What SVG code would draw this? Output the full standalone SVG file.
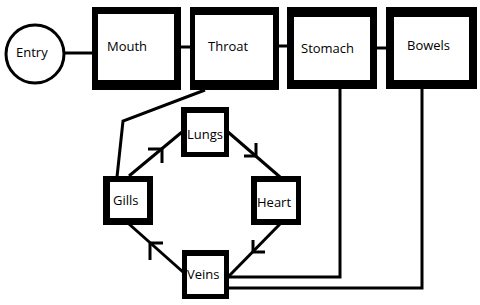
<svg xmlns="http://www.w3.org/2000/svg" width="480" height="305" viewBox="0 0 480 305">
<style>
.outer{fill:#000}
.inner{fill:#fff}
.lbl{font-family:"Open Sans","DejaVu Sans",sans-serif;font-size:13px;fill:#000}
.ln{stroke:#000;stroke-width:3;fill:none}
</style>
<rect width="480" height="305" fill="#fff"/>
<g id="connectors">
<line class="ln" x1="65" y1="53" x2="93" y2="53"/>
<line class="ln" x1="180" y1="47" x2="191" y2="47"/>
<line class="ln" x1="278" y1="46" x2="288" y2="46"/>
<line class="ln" x1="376" y1="48" x2="387" y2="48"/>
<polyline class="ln" points="205,90 123,121 117,177"/>
<line class="ln" x1="129" y1="176" x2="182" y2="132"/>
<polyline class="ln" points="148,149 162,149 162,163"/>
<line class="ln" x1="228" y1="132" x2="280" y2="177"/>
<polyline class="ln" points="256,143 256,156 244,156"/>
<line class="ln" x1="280" y1="224" x2="229" y2="276"/>
<polyline class="ln" points="253,240 253,252 265,252"/>
<line class="ln" x1="183" y1="272" x2="129" y2="224"/>
<polyline class="ln" points="150,260 150,243 163,243"/>
<polyline class="ln" points="340,89 340,277 228,277"/>
<polyline class="ln" points="422,89 422,288 228,288"/>
</g>
<g id="entry">
<circle cx="35" cy="54" r="29" fill="#fff" stroke="#000" stroke-width="3"/>
<text class="lbl" x="16" y="57">Entry</text>
</g>
<g id="mouth">
<rect class="outer" x="92" y="7" width="89" height="83"/>
<rect class="inner" x="98" y="14" width="76" height="66"/>
<text class="lbl" x="107" y="51">Mouth</text>
</g>
<g id="throat">
<rect class="outer" x="190" y="7" width="89" height="83"/>
<rect class="inner" x="195" y="15" width="78" height="65"/>
<text class="lbl" x="208" y="51">Throat</text>
</g>
<g id="stomach">
<rect class="outer" x="287" y="7" width="90" height="82"/>
<rect class="inner" x="294" y="17" width="76" height="63"/>
<text class="lbl" x="301" y="53">Stomach</text>
</g>
<g id="bowels">
<rect class="outer" x="386" y="7" width="91" height="82"/>
<rect class="inner" x="394" y="17" width="75" height="63"/>
<text class="lbl" x="407" y="50">Bowels</text>
</g>
<g id="lungs">
<rect class="outer" x="181" y="107" width="48" height="50"/>
<rect class="inner" x="187" y="113" width="37" height="39"/>
<text class="lbl" x="187" y="139">Lungs</text>
</g>
<g id="gills">
<rect class="outer" x="103" y="176" width="50" height="49"/>
<rect class="inner" x="110" y="182" width="37" height="36"/>
<text class="lbl" x="113" y="205">Gills</text>
</g>
<g id="heart">
<rect class="outer" x="251" y="176" width="50" height="49"/>
<rect class="inner" x="257" y="182" width="39" height="37"/>
<text class="lbl" x="257" y="207">Heart</text>
</g>
<g id="veins">
<rect class="outer" x="182" y="250" width="47" height="49"/>
<rect class="inner" x="187" y="256" width="37" height="38"/>
<text class="lbl" x="187" y="279">Veins</text>
</g>
</svg>
